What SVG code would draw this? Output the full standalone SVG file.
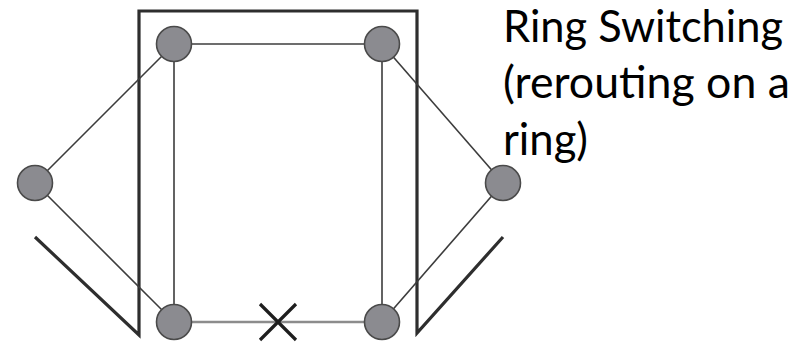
<svg xmlns="http://www.w3.org/2000/svg" width="811" height="342" viewBox="0 0 811 342">
<style>
.frame{fill:none;stroke:#2e2e2e;stroke-width:3.2;stroke-linejoin:miter}
.link{stroke:#3c3c3c;stroke-width:1.6;fill:none}
.broken{stroke:#8c8c8c;stroke-width:2.6;fill:none}
.node{fill:#8b8b90;stroke:#4a4a4a;stroke-width:1.6}
.x{stroke:#1e1e1e;stroke-width:3.2;fill:none}
.label{font-family:Lato,"Open Sans","Liberation Sans",sans-serif;font-size:44px;fill:#000}
</style>
<rect width="811" height="342" fill="#fff"/>
<g id="frame">
<polyline class="frame" points="35,237 139,335 139,11 417,11 417,333 503,237"/>
</g>
<g id="connectors">
<line class="link" x1="174" y1="44" x2="382" y2="44"/>
<line class="link" x1="174" y1="44" x2="174" y2="322"/>
<line class="link" x1="382" y1="44" x2="382" y2="322"/>
<line class="link" x1="35" y1="183" x2="174" y2="44"/>
<line class="link" x1="35" y1="183" x2="174" y2="322"/>
<line class="link" x1="503" y1="183" x2="382" y2="44"/>
<line class="link" x1="503" y1="183" x2="382" y2="322"/>
<line class="broken" x1="174" y1="322" x2="382" y2="322"/>
<path class="x" d="M260,304 L296,340 M296,304 L260,340"/>
</g>
<g id="node-top-left"><circle class="node" cx="174" cy="44" r="17.5"/></g>
<g id="node-top-right"><circle class="node" cx="382" cy="44" r="17.5"/></g>
<g id="node-left"><circle class="node" cx="35" cy="183" r="17.5"/></g>
<g id="node-right"><circle class="node" cx="503" cy="183" r="17.5"/></g>
<g id="node-bottom-left"><circle class="node" cx="174" cy="322" r="17.5"/></g>
<g id="node-bottom-right"><circle class="node" cx="382" cy="322" r="17.5"/></g>
<g id="label">
<text class="label" x="503" y="42" textLength="280" lengthAdjust="spacingAndGlyphs">Ring Switching</text>
<text class="label" x="503" y="98" textLength="287" lengthAdjust="spacingAndGlyphs">(rerouting on a</text>
<text class="label" x="503" y="155" textLength="85" lengthAdjust="spacingAndGlyphs">ring)</text>
</g>
</svg>
